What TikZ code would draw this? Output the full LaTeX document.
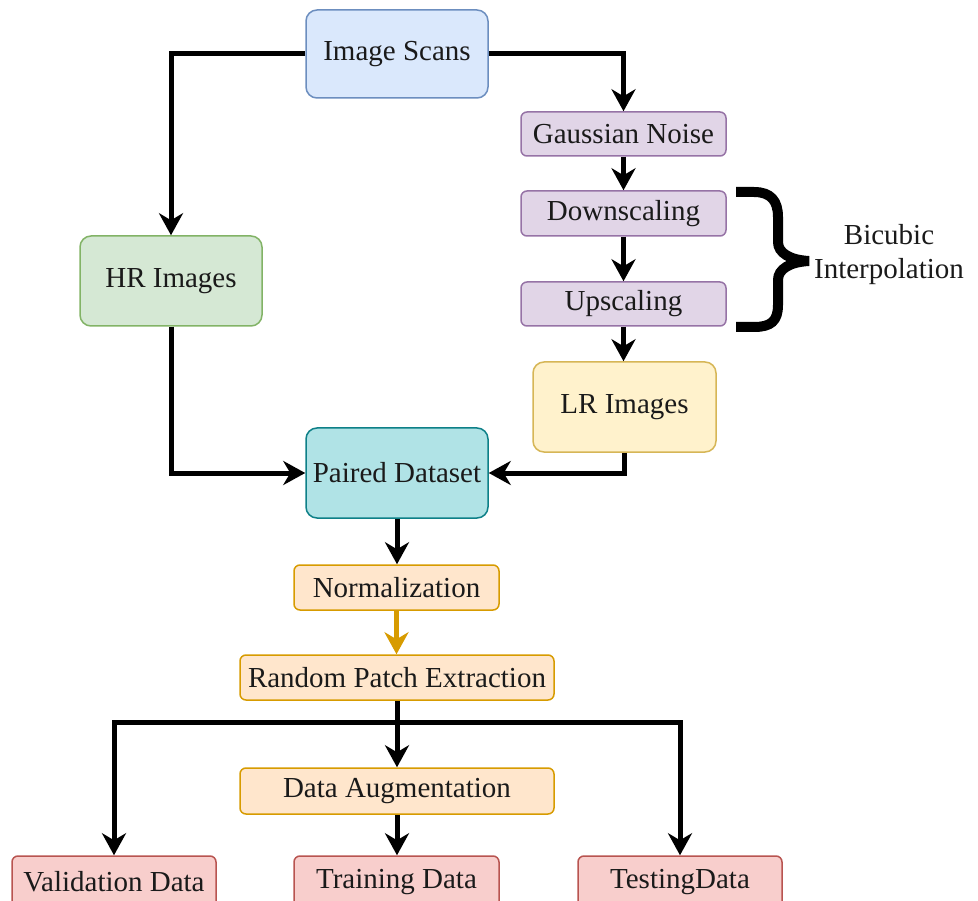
\documentclass[tikz,border=0pt]{standalone}
\usepackage{fontspec}
\setmainfont{Liberation Serif}
\usetikzlibrary{arrows.meta}
\definecolor{bluef}{HTML}{DAE8FC}\definecolor{blued}{HTML}{6C8EBF}
\definecolor{purf}{HTML}{E1D5E7}\definecolor{purd}{HTML}{9673A6}
\definecolor{grnf}{HTML}{D5E8D4}\definecolor{grnd}{HTML}{82B366}
\definecolor{ylwf}{HTML}{FFF2CC}\definecolor{ylwd}{HTML}{D6B656}
\definecolor{tealf}{HTML}{B0E3E6}\definecolor{teald}{HTML}{0E8088}
\definecolor{orgf}{HTML}{FFE6CC}\definecolor{orgd}{HTML}{D79B00}
\definecolor{redf}{HTML}{F8CECC}\definecolor{redd}{HTML}{B85450}
\definecolor{txt}{HTML}{1A1A1A}
\tikzset{
  box/.style={draw, line width=1.5pt, inner sep=0pt, align=center, text=txt,
    font=\fontsize{29}{34}\selectfont},
  bigbox/.style={box, rounded corners=11pt},
  smallbox/.style={box, rounded corners=6pt},
  arr/.style={line width=5pt, -{Stealth[length=22pt,width=24pt,inset=7pt]}},
  plain/.style={line width=5pt},
  bracestyle/.style={line width=10pt, line join=miter, miter limit=10},
}
\begin{document}
\begin{tikzpicture}[x=1pt,y=-1pt]
\useasboundingbox (0,0) rectangle (978,901);
\node[bigbox, fill=bluef, draw=blued, minimum width=182pt, minimum height=88pt] (scans) at (397,54) {Image Scans};
\node[smallbox, fill=purf, draw=purd, minimum width=205pt, minimum height=44pt] (gauss) at (623.5,134) {Gaussian Noise};
\node[smallbox, fill=purf, draw=purd, minimum width=205pt, minimum height=45pt] (down) at (623.5,213.5) {Downscaling};
\node[smallbox, fill=purf, draw=purd, minimum width=205pt, minimum height=44pt] (up) at (623.5,304) {Upscaling};
\node[bigbox, fill=grnf, draw=grnd, minimum width=182pt, minimum height=90pt] (hr) at (171,281) {HR Images};
\node[bigbox, fill=ylwf, draw=ylwd, minimum width=183pt, minimum height=90pt] (lr) at (624.5,407) {LR Images};
\node[bigbox, fill=tealf, draw=teald, minimum width=182pt, minimum height=90pt] (paired) at (397,473) {Paired Dataset};
\node[smallbox, fill=orgf, draw=orgd, minimum width=205pt, minimum height=45pt] (norm) at (396.5,587.5) {Normalization};
\node[smallbox, fill=orgf, draw=orgd, minimum width=314pt, minimum height=45pt] (rpe) at (397,677.5) {Random Patch Extraction};
\node[smallbox, fill=orgf, draw=orgd, minimum width=314pt, minimum height=46pt] (aug) at (397,791) {Data Augmentation};
\node[smallbox, fill=redf, draw=redd, minimum width=204pt, minimum height=52pt] (val) at (114,882) {Validation Data};
\node[smallbox, fill=redf, draw=redd, minimum width=205pt, minimum height=52pt] (train) at (396.5,882) {Training Data};
\node[smallbox, fill=redf, draw=redd, minimum width=204pt, minimum height=52pt] (test) at (680,882) {TestingData};
\node[text=txt, align=center, font=\fontsize{29}{34}\selectfont] (bicubic) at (889,255) {Bicubic\\Interpolation};
% brace
\draw[bracestyle] (736,192) -- (754,192)
  .. controls (771,192) and (778,201) .. (778,217) -- (778,242)
  .. controls (778,253) and (790,260) .. (809,261)
  .. controls (790,262) and (778,269) .. (778,280) -- (778,305)
  .. controls (778,321) and (771,327) .. (754,327) -- (736,327);
% connectors
\draw[arr] (scans.west) -| (hr.north);
\draw[arr] (scans.east) -| (gauss.north);
\draw[arr] (gauss.south) -- (down.north);
\draw[arr] (down.south) -- (up.north);
\draw[arr] (up.south) -- (up.south |- lr.north);
\draw[arr] (hr.south) |- (paired.west);
\draw[arr] (lr.south) |- (paired.east);
\draw[arr] (paired.south) -- (paired.south |- norm.north);
\draw[arr, draw=orgd, fill=orgd] (norm.south) -- (norm.south |- rpe.north);
\coordinate (split) at (397,722);
\draw[plain] (rpe.south) -- (split);
\draw[arr] (split) -- (aug.north);
\draw[arr] (split) -| (val.north);
\draw[arr] (split) -| (test.north);
\draw[arr] (aug.south) -- (aug.south |- train.north);
\end{tikzpicture}
\end{document}
